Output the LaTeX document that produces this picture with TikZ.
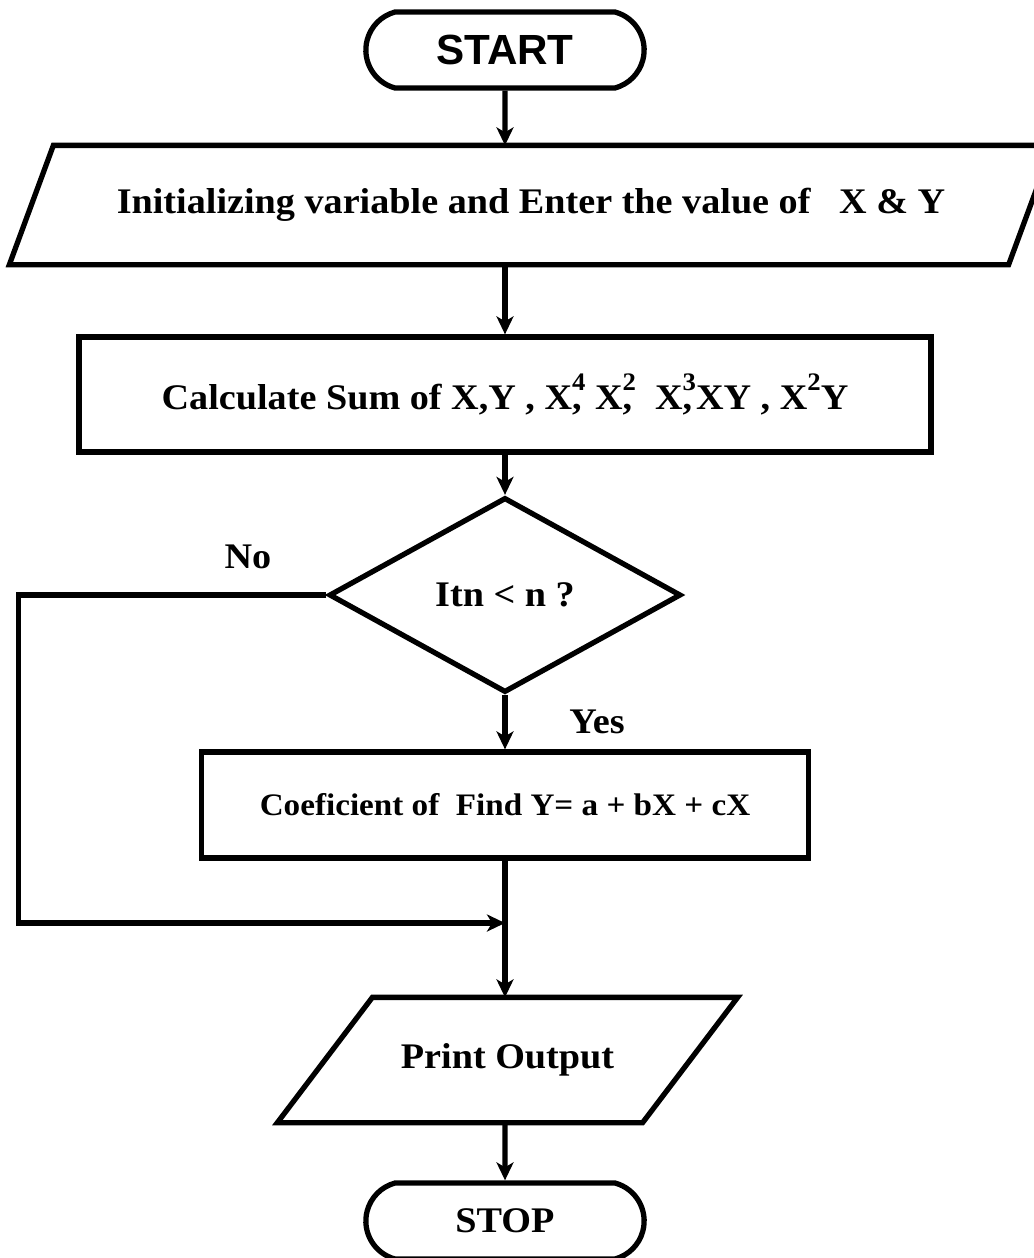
\documentclass[tikz,border=0pt]{standalone}
\usepackage{fontspec}
\setmainfont{Liberation Serif}[FakeStretch=1.06]
\setsansfont{Liberation Sans}
\usetikzlibrary{arrows.meta,shapes.geometric,shapes.misc}

\newcommand\sufx[1]{\raisebox{1.2ex}{\scalebox{0.7}{#1}}}

\begin{document}
\begin{tikzpicture}[>={Stealth[length=3.6mm,width=3.4mm,inset=1mm]},line width=3pt,
  box/.style={draw,rectangle,inner sep=2pt},
  term/.style={draw,rounded rectangle,rounded rectangle arc length=150,minimum width=5.8cm,minimum height=1.52cm},
  io/.style={rectangle,inner sep=2pt},
  txt/.style={font=\fontsize{20.5}{24}\selectfont\bfseries}]
\useasboundingbox (0,0) rectangle (20.68,-25.16);
\node[term,font=\sffamily\bfseries\fontsize{24}{28}\selectfont] (start) at (10.1,-1.0) {START};
\node[io,txt,minimum width=20.76cm,minimum height=2.28cm] (init) at (10.62,-4.1) {Initializing variable and Enter the value of\ \ \ X \& Y};
\draw ([xshift=0.88cm]init.north west) -- (init.north east) -- ([xshift=-0.88cm]init.south east) -- (init.south west) -- cycle;
\node[box,txt,minimum width=17.04cm,minimum height=2.3cm] (sums) at (10.1,-7.89) {Calculate Sum of X,Y , X\rlap{,}\sufx{4} X\rlap{,}\sufx{2}\ \ X\rlap{,}\sufx{3}XY , X\sufx{2}Y};
\node[draw,diamond,txt,minimum width=7.04cm,minimum height=3.9cm,inner sep=0pt] (test) at (10.1,-11.9) {Itn < n ?};
\node[box,txt,font=\fontsize{17.8}{21}\selectfont\bfseries,minimum width=12.14cm,minimum height=2.12cm] (coef) at (10.1,-16.1) {Coeficient of\ \ Find Y= a + bX + cX};
\node[io,txt,minimum width=9.1cm,minimum height=2.4cm] (print) at (10.15,-21.2) {Print Output};
\draw ([xshift=1.9cm]print.north west) -- (print.north east) -- ([xshift=-1.9cm]print.south east) -- (print.south west) -- cycle;
\node[term,txt] (stop) at (10.1,-24.42) {STOP};
\node[txt] (no) at (4.96,-11.14) {No};
\node[txt] (yes) at (11.94,-14.44) {Yes};
\coordinate (join) at (10.1,-18.46);
\draw[->] (start) -- (start |- init.north);
\draw[->] (init.south -| start) -- (sums);
\draw[->] (sums) -- (test);
\draw[->] (test) -- (coef);
\draw[->] (coef) -- (coef |- print.north);
\draw[->] (print.south -| stop) -- (stop);
\draw[->] (test.west) -- ++(-6.16,0) |- (join);
\end{tikzpicture}
\end{document}
